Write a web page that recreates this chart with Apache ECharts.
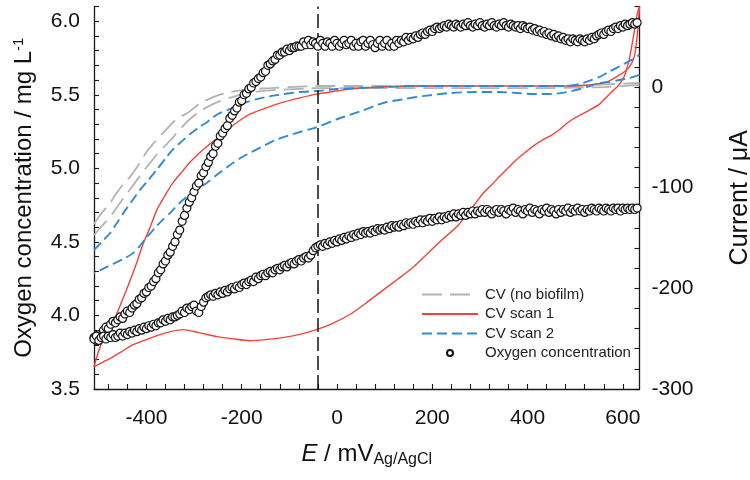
<!DOCTYPE html>
<html><head><meta charset="utf-8">
<script src="https://cdn.jsdelivr.net/npm/echarts@6/dist/echarts.min.js"></script>
<style>html,body{margin:0;padding:0;background:#fff}#c{width:750px;height:480px}</style>
</head><body><div id="c"></div>
<script>
// ---- axis ticks / labels ----
const xTicks = [-480,-440,-400,-360,-320,-280,-240,-200,-160,-120,-80,-40,0,40,80,120,160,200,240,280,320,360,400,440,480,520,560,600];
const xLabels = [-400,-200,0,200,400,600];
const leftTicks = [3.5,3.6,3.7,3.8,3.9,4.0,4.1,4.2,4.3,4.4,4.5,4.6,4.7,4.8,4.9,5.0,5.1,5.2,5.3,5.4,5.5,5.6,5.7,5.8,5.9,6.0,6.1];
const leftLabels = [3.5,4.0,4.5,5.0,5.5,6.0];
const rightTicks = [-300,-280,-260,-240,-220,-200,-180,-160,-140,-120,-100,-80,-60,-40,-20,0,20,40,60,80];
const rightLabels = [-300,-200,-100,0];
const markerE = -40;

// ---- oxygen concentration (mg/L): [E mV, O2] ----
const o2Upper = [[-510,3.85],[-505,3.83],[-500,3.87],[-495,3.86],[-490,3.90],[-485,3.92],[-480,3.91],[-475,3.94],[-470,3.96],[-465,3.95],[-460,3.97],[-455,3.99],[-450,3.98],[-445,4.01],[-440,4.03],[-435,4.02],[-430,4.05],[-425,4.07],[-420,4.08],[-415,4.11],[-410,4.12],[-405,4.15],[-400,4.16],[-395,4.19],[-390,4.20],[-385,4.23],[-380,4.25],[-375,4.29],[-370,4.31],[-365,4.35],[-360,4.37],[-355,4.41],[-350,4.43],[-345,4.47],[-340,4.50],[-335,4.55],[-330,4.58],[-325,4.64],[-320,4.68],[-315,4.73],[-310,4.77],[-305,4.80],[-300,4.84],[-295,4.88],[-290,4.90],[-285,4.95],[-280,4.97],[-275,5.01],[-270,5.04],[-265,5.08],[-260,5.10],[-255,5.15],[-250,5.17],[-245,5.22],[-240,5.24],[-235,5.27],[-230,5.29],[-225,5.34],[-220,5.36],[-215,5.39],[-210,5.41],[-205,5.45],[-200,5.46],[-195,5.50],[-190,5.51],[-185,5.54],[-180,5.55],[-175,5.58],[-170,5.59],[-165,5.61],[-160,5.62],[-155,5.65],[-150,5.66],[-145,5.70],[-140,5.71],[-135,5.73],[-130,5.74],[-125,5.77],[-120,5.77],[-115,5.79],[-110,5.79],[-105,5.81],[-100,5.80],[-95,5.82],[-90,5.82],[-85,5.83],[-80,5.83],
[-75,5.83],[-70,5.86],[-65,5.84],[-60,5.87],[-55,5.84],[-50,5.86],[-45,5.85],[-40,5.83],[-35,5.87],[-30,5.85],[-25,5.83],[-20,5.86],[-15,5.85],[-10,5.83],[-5,5.87],[0,5.85],[5,5.83],[10,5.85],[15,5.87],[20,5.84],[25,5.85],[30,5.87],[35,5.83],[40,5.85],[45,5.83],[50,5.86],[55,5.87],[60,5.83],[65,5.85],[70,5.87],[75,5.84],[80,5.82],[85,5.85],[90,5.87],[95,5.83],[100,5.85],[105,5.87],[110,5.83],[115,5.85],[120,5.83],[125,5.87],[130,5.85],[135,5.87],[140,5.86],[145,5.89],[150,5.87],[155,5.89],[160,5.88],[165,5.90],[170,5.89],[175,5.91],[180,5.92],[185,5.91],[190,5.93],[195,5.94],[200,5.93],[205,5.95],[210,5.96],[215,5.95],[220,5.96],[225,5.97],[230,5.96],[235,5.98],[240,5.97],[245,5.96],[250,5.98],[255,5.97],[260,5.96],[265,5.98],[270,5.97],[275,5.99],[280,5.97],[285,5.96],[290,5.98],[295,5.97],[300,5.99],[305,5.97],[310,5.96],[315,5.98],[320,5.97],[325,5.99],[330,5.97],[335,5.96],[340,5.98],[345,5.97],[350,5.99],[355,5.97],[360,5.96],[365,5.98],[370,5.97],[375,5.96],[380,5.97],[385,5.95],[390,5.97],[395,5.96],[400,5.95],[405,5.96],[410,5.94],[415,5.95],[420,5.93],[425,5.94],[430,5.92],[435,5.93],[440,5.91],[445,5.92],[450,5.90],[455,5.91],[460,5.89],[465,5.90],[470,5.88],[475,5.89],[480,5.87],[485,5.88],[490,5.86],[495,5.88],[500,5.87],[505,5.86],[510,5.88],[515,5.87],[520,5.86],[525,5.88],[530,5.87],[535,5.89],[540,5.88],[545,5.90],[550,5.91],[555,5.92],[560,5.91],[565,5.93],[570,5.94],[575,5.93],[580,5.95],[585,5.96],[590,5.95],[595,5.97],[600,5.96],[605,5.98],[610,5.97],[615,5.98],[620,5.99],[625,5.98],[630,5.99]];
const o2Lower = [[-510,3.84],[-505,3.86],[-500,3.83],[-495,3.85],[-490,3.86],[-485,3.84],[-480,3.86],[-475,3.85],[-470,3.87],[-465,3.85],[-460,3.86],[-455,3.88],[-450,3.86],[-445,3.88],[-440,3.87],[-435,3.89],[-430,3.88],[-425,3.90],[-420,3.89],[-415,3.91],[-410,3.90],[-405,3.92],[-400,3.91],[-395,3.93],[-390,3.92],[-385,3.94],[-380,3.93],[-375,3.95],[-370,3.95],[-365,3.97],[-360,3.96],[-355,3.98],[-350,3.97],[-345,3.99],[-340,3.99],[-335,4.00],[-330,4.01],[-325,4.03],[-320,4.02],[-315,4.05],[-310,4.04],[-305,4.06],[-300,4.07],[-295,4.03],[-290,4.02],[-285,4.06],[-280,4.09],[-275,4.12],[-270,4.13],[-265,4.14],[-260,4.13],[-255,4.15],[-250,4.14],[-245,4.16],[-240,4.15],[-235,4.17],[-230,4.16],[-225,4.18],[-220,4.19],[-215,4.18],[-210,4.20],[-205,4.19],[-200,4.21],[-195,4.22],[-190,4.21],[-185,4.23],[-180,4.24],[-175,4.23],[-170,4.26],[-165,4.25],[-160,4.27],[-155,4.28],[-150,4.27],[-145,4.29],[-140,4.30],[-135,4.29],[-130,4.31],[-125,4.32],[-120,4.31],[-115,4.33],[-110,4.34],[-105,4.33],[-100,4.35],[-95,4.36],[-90,4.35],[-85,4.37],[-80,4.38],[-75,4.37],[-70,4.39],[-65,4.40],[-60,4.39],[-55,4.41],[-50,4.44],[-45,4.46],[-40,4.47],[-35,4.48],[-30,4.47],[-25,4.49],[-20,4.48],[-15,4.50],[-10,4.49],[-5,4.51],[0,4.50],[5,4.52],[10,4.51],[15,4.53],[20,4.52],[25,4.54],[30,4.53],[35,4.55],[40,4.54],[45,4.56],[50,4.55],[55,4.57],[60,4.56],[65,4.57],[70,4.56],[75,4.58],[80,4.57],[85,4.59],[90,4.58],[95,4.59],[100,4.58],[105,4.60],[110,4.59],[115,4.61],[120,4.60],[125,4.61],[130,4.60],[135,4.62],[140,4.61],[145,4.63],[150,4.62],[155,4.63],[160,4.62],[165,4.64],[170,4.63],[175,4.65],[180,4.63],[185,4.65],[190,4.64],[195,4.66],[200,4.64],[205,4.66],[210,4.65],[215,4.67],[220,4.65],[225,4.67],[230,4.66],[235,4.68],[240,4.67],[245,4.69],[250,4.67],[255,4.69],[260,4.68],[265,4.70],[270,4.68],[275,4.70],[280,4.69],[285,4.71],[290,4.69],[295,4.71],[300,4.70],[305,4.72],[310,4.70],[315,4.72],[320,4.71],[325,4.69],[330,4.71],[335,4.72],[340,4.70],[345,4.72],[350,4.71],[355,4.69],[360,4.72],[365,4.71],[370,4.73],[375,4.70],[380,4.72],[385,4.71],[390,4.69],[395,4.72],[400,4.71],[405,4.73],[410,4.70],[415,4.72],[420,4.71],[425,4.69],[430,4.72],[435,4.71],[440,4.73],[445,4.70],[450,4.72],[455,4.71],[460,4.69],[465,4.72],[470,4.70],[475,4.72],[480,4.71],[485,4.73],[490,4.70],[495,4.72],[500,4.71],[505,4.73],[510,4.71],[515,4.72],[520,4.70],[525,4.72],[530,4.71],[535,4.73],[540,4.72],[545,4.71],[550,4.73],[555,4.72],[560,4.71],[565,4.73],[570,4.72],[575,4.71],[580,4.73],[585,4.72],[590,4.73],[595,4.71],[600,4.73],[605,4.72],[610,4.73],[615,4.72],[620,4.73],[625,4.72],[630,4.73]];

// ---- CV (no biofilm): [E mV, current uA] ----
const cv0Outer = [[-510,-136],[-497,-127],[-476,-115],[-462,-105],[-448,-96],[-434,-89],[-416,-77],[-399,-64],[-385,-56],[-372,-49],[-358,-42],[-344,-35],[-330,-30],[-315,-26],[-300,-21],[-288,-16],[-274,-13],[-260,-10],[-242,-7],[-224,-5],[-200,-3],[-183,-2],[-140,-1],[-99,0],[-36,1],[50,1],[150,1],[250,1],[350,1],[450,1],[530,2],[580,3],[635,4]];
const cv0Inner = [[635,2],[560,0],[450,-1],[300,-1],[150,-1],[50,-1],[-36,-1],[-126,-3],[-160,-4],[-197,-7],[-220,-10],[-246,-14],[-273,-20],[-290,-25],[-309,-32],[-326,-40],[-344,-50],[-360,-58],[-378,-67],[-395,-77],[-413,-88],[-430,-99],[-449,-111],[-470,-125],[-491,-137],[-510,-147]];

// ---- CV scan 1 ----
const cv1Fwd = [[-510,-278],[-500,-262],[-490,-250],[-475,-237],[-462,-225],[-450,-211],[-434,-192],[-420,-174],[-407,-156],[-392,-139],[-378,-122],[-360,-107],[-344,-95],[-325,-84],[-309,-75],[-290,-66],[-273,-59],[-260,-54],[-246,-49],[-231,-43],[-215,-37],[-197,-31],[-183,-27],[-150,-21],[-120,-16],[-80,-11],[-43,-7],[0,-4],[27,-2],[96,0],[200,1],[341,1],[450,1],[495,1],[530,2],[566,5],[593,12],[605,16],[614,20],[624,30],[631,54],[635,80]];
const cv1Rev = [[635,80],[631,74],[627,64],[623,52],[620,44],[615,31],[610,21],[605,13],[599,7],[590,1],[583,-2],[566,-10],[551,-17],[530,-23],[510,-28],[495,-32],[480,-37],[468,-42],[450,-48],[430,-53],[411,-59],[395,-65],[377,-72],[360,-80],[341,-89],[325,-97],[306,-106],[290,-116],[272,-127],[255,-137],[237,-145],[220,-152],[200,-161],[180,-170],[160,-179],[130,-190],[96,-202],[60,-215],[27,-226],[-10,-235],[-43,-241],[-80,-246],[-114,-249],[-150,-251],[-183,-252],[-220,-250],[-252,-248],[-290,-244],[-323,-241],[-350,-243],[-378,-247],[-400,-251],[-428,-256],[-449,-262],[-470,-268],[-490,-273],[-510,-278]];

// ---- CV scan 2 ----
const cv2Fwd = [[-510,-162],[-504,-159],[-490,-152],[-476,-145],[-462,-135],[-448,-125],[-430,-113],[-413,-102],[-395,-92],[-378,-82],[-360,-71],[-344,-62],[-326,-54],[-309,-47],[-290,-40],[-273,-35],[-260,-30],[-246,-26],[-220,-21],[-197,-16],[-160,-11],[-126,-8],[-80,-5],[-43,-4],[0,-2],[48,-1],[100,0],[167,1],[250,1],[341,1],[420,1],[482,1],[500,2],[516,4],[535,7],[551,10],[570,15],[587,19],[599,22],[615,26],[635,32]];
const cv2Rev = [[635,12],[615,9],[593,7],[570,5],[551,4],[530,1],[510,-2],[482,-5],[450,-7],[411,-7],[380,-6],[341,-5],[290,-5],[237,-6],[180,-9],[140,-12],[96,-16],[50,-24],[0,-32],[-43,-40],[-80,-45],[-126,-52],[-160,-60],[-197,-69],[-220,-76],[-246,-85],[-270,-94],[-294,-102],[-312,-108],[-330,-115],[-348,-124],[-366,-132],[-382,-140],[-399,-149],[-414,-158],[-428,-165],[-445,-170],[-462,-174],[-480,-178],[-497,-182],[-510,-185]];

const FONT = '"Liberation Sans", Arial, Helvetica, sans-serif';
const GRAY = '#b3b3b3', RED = '#f0443a', BLUE = '#2d8bd6';

const chart = echarts.init(document.getElementById('c'), null, {renderer: 'canvas'});
const axisLine = {show: true, onZero: false, lineStyle: {color: '#1a1a1a', width: 1.3}};
const tickStyle = {color: '#1a1a1a', width: 1.1};
const hiddenSymbol = {opacity: 0};

function cvSeries(name, data, color, width, type, z) {
  return {
    name: name, type: 'line', yAxisIndex: 1, symbol: 'none', smooth: 0.25,
    data: data, lineStyle: {color: color, width: width, type: type},
    itemStyle: {color: color}, z: z
  };
}

const s1 = cvSeries('CV scan 1', cv1Fwd, RED, 1.4, 'solid', 3);
s1.markLine = {
  silent: true, symbol: ['none', 'none'], label: {show: false},
  lineStyle: {color: '#111', width: 1.5, type: [14, 5]},
  data: [{xAxis: markerE}]
};

chart.setOption({
  animation: false,
  backgroundColor: '#fff',
  grid: {left: 94, right: 110.5, top: 6.5, bottom: 91, containLabel: false, outerBoundsMode: 'none'},
  legend: {
    orient: 'vertical', left: 416, top: 282,
    itemWidth: 56, itemHeight: 6, itemGap: 4.5,
    textStyle: {fontFamily: FONT, fontSize: 15, color: '#222', padding: [0, 0, 0, 2]},
    data: [
      {name: 'CV (no biofilm)', itemStyle: hiddenSymbol},
      {name: 'CV scan 1', itemStyle: hiddenSymbol},
      {name: 'CV scan 2', itemStyle: hiddenSymbol},
      {name: 'Oxygen concentration'}
    ]
  },
  xAxis: {
    type: 'value', min: -510, max: 635,
    axisLine: axisLine,
    axisTick: {show: true, inside: true, length: 5, customValues: xTicks, lineStyle: tickStyle},
    axisLabel: {customValues: xLabels, fontFamily: FONT, fontSize: 21, color: '#111', margin: 19},
    splitLine: {show: false},
    name: '{i|E} / mV{s|Ag/AgCl}',
    nameLocation: 'middle', nameGap: 52,
    nameTextStyle: {
      fontFamily: FONT, fontSize: 24, color: '#111', lineHeight: 27,
      rich: {
        i: {fontFamily: FONT, fontSize: 24, fontStyle: 'italic', color: '#111', lineHeight: 27},
        s: {fontFamily: FONT, fontSize: 16, color: '#111', lineHeight: 8, verticalAlign: 'bottom'}
      }
    }
  },
  yAxis: [{
    type: 'value', min: 3.5, max: 6.1, position: 'left',
    axisLine: axisLine,
    axisTick: {show: true, inside: true, length: 5, customValues: leftTicks, lineStyle: tickStyle},
    axisLabel: {customValues: leftLabels, fontFamily: FONT, fontSize: 21, color: '#111', margin: 14,
      formatter: v => Number(v).toFixed(1)},
    splitLine: {show: false},
    name: 'Oxygen concentration / mg L{p|-1}',
    nameLocation: 'middle', nameGap: 56,
    nameTextStyle: {
      fontFamily: FONT, fontSize: 24, color: '#111', lineHeight: 27,
      rich: {p: {fontFamily: FONT, fontSize: 15, color: '#111', lineHeight: 8, verticalAlign: 'top'}}
    }
  }, {
    type: 'value', min: -300, max: 80, position: 'right',
    axisLine: axisLine,
    axisTick: {show: true, inside: true, length: 5, customValues: rightTicks, lineStyle: tickStyle},
    axisLabel: {customValues: rightLabels, fontFamily: FONT, fontSize: 21, color: '#111', margin: 12},
    splitLine: {show: false},
    name: 'Current / μA',
    nameLocation: 'middle', nameGap: 88,
    nameTextStyle: {fontFamily: FONT, fontSize: 25, color: '#111'}
  }],
  series: [
    cvSeries('CV (no biofilm)', cv0Outer, GRAY, 1.8, [20, 8], 2),
    cvSeries('CV (no biofilm)', cv0Inner, GRAY, 1.8, [20, 8], 2),
    s1,
    cvSeries('CV scan 1', cv1Rev, RED, 1.4, 'solid', 3),
    cvSeries('CV scan 2', cv2Fwd, BLUE, 1.9, [10, 5], 3),
    cvSeries('CV scan 2', cv2Rev, BLUE, 1.9, [10, 5], 3),
    {
      name: 'Oxygen concentration', type: 'scatter', yAxisIndex: 0,
      symbol: 'circle', symbolSize: 8,
      data: o2Upper.concat(o2Lower),
      itemStyle: {color: '#ffffff', borderColor: '#111', borderWidth: 1.2, opacity: 1},
      z: 5
    }
  ]
});
</script></body></html>
